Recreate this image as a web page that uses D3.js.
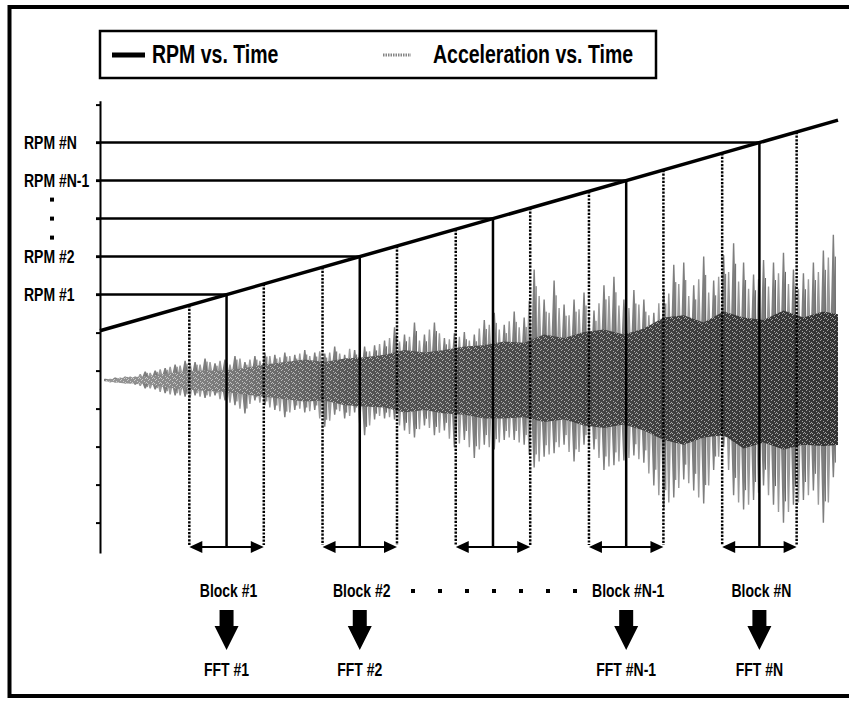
<!DOCTYPE html>
<html>
<head>
<meta charset="utf-8">
<script src="https://cdn.jsdelivr.net/npm/d3@7"></script>
<style>
  body { margin: 0; background: #fff; }
  svg text { font-family: "Liberation Sans", Arial, sans-serif; font-weight: bold; fill: #000; }
</style>
</head>
<body>
<svg id="chart" width="849" height="702"></svg>
<script>
// ---- data ----
// left axis: tick values (RPM units, top tick = 12)
const rpmTicks = [1, 2, 3, 4, 5, 6, 7, 8, 9, 10, 11, 12];
// RPM levels picked for the blocks, with their axis labels
const rpmLevels = [7, 8, 9, 10, 11];
const rpmLevelLabels = ["RPM #1", "RPM #2", "", "RPM #N-1", "RPM #N"];
const blockLabels = ["Block #1", "Block #2", "", "Block #N-1", "Block #N"];
const fftLabels = ["FFT #1", "FFT #2", "", "FFT #N-1", "FFT #N"];
// RPM vs time ramp (start / end)
const rpmLineTime = [0, 5.55];
const rpmLineValue = [6.05, 11.59];
const blockHalfWidth = 0.28;

// acceleration peaks (g), one every accStep starting at accStart
const accStart = 0.04, accStep = 0.075;
const accUpper = [0.1, 0.2, 0.3, 0.3, 0.7, 0.8, 1.0, 1.3, 1.6, 1.5,
  1.8, 1.4, 1.7, 2.0, 1.5, 2.0, 2.3, 2.1, 2.3, 2.1,
  2.5, 2.3, 2.2, 2.8, 2.1, 2.5, 2.8, 2.9, 3.3, 4.4,
  3.8, 4.8, 3.8, 4.8, 3.5, 3.9, 4.0, 3.8, 5.0, 5.6,
  4.6, 5.7, 5.2, 9.2, 6.7, 8.3, 6.3, 6.7, 7.3, 5.8,
  7.9, 8.6, 6.7, 7.5, 6.7, 5.6, 7.5, 9.6, 9.8, 7.9,
  10.3, 8.3, 10.4, 11.4, 9.8, 8.8, 10.0, 9.8, 10.6, 9.2,
  8.9, 9.8, 10.8, 12.1];
const accLower = [-0.1, -0.2, -0.3, -0.4, -0.7, -0.8, -1.1, -1.3, -1.4, -1.3,
  -1.5, -1.3, -1.7, -2.1, -2.8, -1.7, -2.1, -2.5, -3.1, -2.5,
  -2.7, -2.5, -3.9, -2.9, -3.2, -2.7, -4.6, -3.3, -3.2, -3.3,
  -4.2, -4.8, -3.8, -4.6, -4.2, -5.6, -5.0, -6.5, -5.4, -5.8,
  -5.0, -5.0, -5.4, -7.3, -6.4, -6.1, -5.4, -6.8, -5.4, -5.8,
  -7.5, -7.1, -6.7, -6.3, -6.9, -8.8, -10.8, -9.8, -8.3, -9.2,
  -10.3, -7.5, -5.6, -9.6, -10.8, -10.0, -8.8, -10.4, -11.9, -10.4,
  -10.0, -9.2, -11.9, -8.1];
// smaller peaks lying between the ones above (g)
const accUpper2 = [0.1, 0.2, 0.3, 0.5, 0.6, 0.9, 1.1, 1.2, 1.4, 1.3,
  1.5, 1.6, 1.3, 1.8, 1.7, 1.6, 2.0, 1.9, 2.0, 2.2,
  2.0, 2.4, 2.3, 2.2, 2.6, 2.3, 2.4, 3.0, 3.5, 3.2,
  3.6, 3.3, 4.2, 3.9, 3.4, 3.6, 3.3, 4.3, 4.6, 4.2,
  4.9, 4.4, 6.6, 7.0, 5.6, 6.0, 5.4, 5.9, 5.2, 6.4,
  7.0, 6.2, 6.0, 6.3, 5.4, 6.4, 7.2, 8.0, 7.0, 8.4,
  7.3, 8.6, 9.0, 8.2, 7.6, 8.4, 7.8, 8.9, 8.0, 7.6,
  8.4, 9.0, 10.2];
const accLower2 = [-0.2, -0.2, -0.3, -0.5, -0.7, -1.0, -1.2, -1.3, -1.5, -1.4,
  -1.4, -1.6, -1.9, -2.4, -2.0, -1.9, -2.3, -2.6, -2.7, -2.4,
  -2.6, -3.2, -3.4, -2.6, -3.0, -3.6, -3.8, -3.0, -3.1, -3.8,
  -4.5, -4.1, -4.0, -4.4, -4.9, -5.3, -5.6, -5.8, -5.6, -5.2,
  -4.8, -5.2, -6.2, -6.8, -6.2, -5.6, -6.0, -6.0, -5.4, -6.5,
  -7.2, -6.8, -6.5, -6.6, -7.8, -9.6, -10.2, -9.0, -8.6, -9.8,
  -8.8, -6.4, -7.5, -10.2, -10.4, -9.4, -9.6, -11.0, -11.0, -10.2,
  -9.6, -10.4, -10.2];
// dense core of the signal (g), one every coreStep
const coreStep = 0.15;
const coreUpper = [0, 0.2, 0.3, 0.5, 0.7, 0.8, 0.8, 1.0, 1.3, 1.5,
  1.7, 1.5, 1.8, 1.9, 2.1, 2.5, 2.3, 2.5, 2.8, 2.9,
  3.2, 3.1, 3.8, 3.5, 4.0, 4.2, 3.8, 4.3, 5.2, 5.4,
  4.8, 5.7, 5.2, 5.0, 5.8, 5.2, 5.7, 5.4];
const coreLower = [-0.1, -0.3, -0.3, -0.6, -0.8, -0.9, -1.0, -1.2, -1.4, -1.6,
  -1.8, -1.7, -2.1, -2.2, -2.3, -2.7, -2.5, -2.8, -2.9, -3.2,
  -3.2, -3.1, -3.5, -3.3, -3.8, -4.0, -3.7, -4.2, -5.0, -5.4,
  -4.8, -4.6, -5.7, -5.2, -5.8, -5.4, -5.5, -5.4];

// ---- scales ----
const svg = d3.select("#chart");
const x = d3.scaleLinear().domain([0, 5.55]).range([100, 838]);
const y = d3.scaleLinear().domain([0.2, 12.1]).range([553, 100.8]);
const yAcc = d3.scaleLinear().domain([-12, 12]).range([524, 236]);
const rpmAt = d3.scaleLinear().domain(rpmLineTime).range(rpmLineValue);

const defs = svg.append("defs");
// speckle texture for the dense part of the signal
const pat = defs.append("pattern").attr("id", "grain")
  .attr("width", 7).attr("height", 5).attr("patternUnits", "userSpaceOnUse");
[[1, 0], [4, 1], [0, 3], [5, 3], [2, 4], [6, 2]].forEach(([px, py]) => {
  pat.append("rect").attr("x", px).attr("y", py).attr("width", 1).attr("height", 1).attr("fill", "#fff").attr("opacity", 0.55);
});
const grad = defs.append("linearGradient").attr("id", "coreShade")
  .attr("gradientUnits", "userSpaceOnUse").attr("x1", 100).attr("x2", 838).attr("y1", 0).attr("y2", 0);
grad.append("stop").attr("offset", 0).attr("stop-color", "#9a9a9a");
grad.append("stop").attr("offset", 0.35).attr("stop-color", "#555");
grad.append("stop").attr("offset", 1).attr("stop-color", "#333");
defs.append("clipPath").attr("id", "plotclip")
  .append("rect").attr("x", 104).attr("y", 90).attr("width", 734).attr("height", 470);

// outer frame
svg.append("rect")
  .attr("x", 9.5).attr("y", 7).attr("width", 860).attr("height", 689)
  .attr("fill", "none").attr("stroke", "#000").attr("stroke-width", 4);

// ---- acceleration signal ----
const toPeaks = (up, lo, t0) => up.map((u, i) => ({ t: t0 + i * accStep, hi: u, lo: lo[i] }));
const accData = toPeaks(accUpper, accLower, accStart);
const accData2 = toPeaks(accUpper2, accLower2, accStart + accStep / 2);
const coreData = coreUpper.map((u, i) => ({ t: accStart + i * coreStep, hi: u, lo: coreLower[i] }));

const accG = svg.append("g").attr("clip-path", "url(#plotclip)");
const stepPx = x(accStep) - x(0);
function wedge(d, w) {
  const cx = x(d.t), y0 = yAcc(0);
  return `M${cx - w},${y0} L${cx - 0.7},${yAcc(d.hi)} L${cx + 0.7},${yAcc(d.hi)} L${cx + w},${y0} Z` +
         `M${cx - w},${y0} L${cx - 0.7},${yAcc(d.lo)} L${cx + 0.7},${yAcc(d.lo)} L${cx + w},${y0} Z`;
}
// spikes: a narrow wedge from the centre line to each peak
accG.selectAll(".spike2").data(accData2).enter().append("path")
  .attr("fill", "#9a9a9a").attr("d", d => wedge(d, stepPx * 0.35));
accG.selectAll(".spike").data(accData).enter().append("path")
  .attr("fill", "#7e7e7e").attr("d", d => wedge(d, stepPx * 0.4));
accG.selectAll(".spikeLine").data(accData).enter().append("line")
  .attr("x1", d => x(d.t) + 2).attr("x2", d => x(d.t) + 2)
  .attr("y1", d => yAcc(d.hi * 0.85)).attr("y2", d => yAcc(d.lo * 0.85))
  .attr("stroke", "#666").attr("stroke-width", 1);
const coreArea = d3.area().x(d => x(d.t)).y0(d => yAcc(d.lo)).y1(d => yAcc(d.hi));
accG.append("path").datum(coreData).attr("fill", "url(#coreShade)").attr("d", coreArea);
accG.append("path").datum(coreData).attr("fill", "url(#grain)").attr("d", coreArea);

// ---- left axis ----
svg.append("g")
  .attr("transform", "translate(100,0)")
  .call(d3.axisLeft(y).tickValues(rpmTicks).tickSize(4).tickSizeOuter(0).tickFormat(""))
  .call(g => g.selectAll("path, line").attr("stroke", "#000").attr("stroke-width", 2));

// ---- blocks ----
const blocks = rpmLevels.map((v, i) => {
  const tc = rpmAt.invert(v);
  return { v, tc, tl: tc - blockHalfWidth, tr: tc + blockHalfWidth,
    rpmLabel: rpmLevelLabels[i], block: blockLabels[i], fft: fftLabels[i] };
});
const arrowY = 547;

// horizontal RPM level lines
svg.selectAll(".level").data(blocks).enter().append("line")
  .attr("x1", 96).attr("x2", d => x(d.tc))
  .attr("y1", d => y(d.v)).attr("y2", d => y(d.v))
  .attr("stroke", "#000").attr("stroke-width", 2.5);

// RPM ramp
svg.append("line")
  .attr("x1", x(rpmLineTime[0])).attr("y1", y(rpmLineValue[0]))
  .attr("x2", x(rpmLineTime[1])).attr("y2", y(rpmLineValue[1]))
  .attr("stroke", "#000").attr("stroke-width", 3.5);

// dotted block edges, centre line and double arrow
blocks.forEach(d => {
  [d.tl, d.tr].forEach(t => {
    svg.append("line")
      .attr("x1", x(t)).attr("x2", x(t))
      .attr("y1", y(rpmAt(t))).attr("y2", arrowY - 2)
      .attr("stroke", "#000").attr("stroke-width", 2.5)
      .attr("stroke-dasharray", "2.2,1.4");
  });
  svg.append("line")
    .attr("x1", x(d.tc)).attr("x2", x(d.tc))
    .attr("y1", y(d.v)).attr("y2", arrowY)
    .attr("stroke", "#000").attr("stroke-width", 2.5);
  const xl = x(d.tl), xr = x(d.tr);
  svg.append("line")
    .attr("x1", xl + 8).attr("x2", xr - 8).attr("y1", arrowY).attr("y2", arrowY)
    .attr("stroke", "#000").attr("stroke-width", 2);
  svg.append("path").attr("fill", "#000")
    .attr("d", `M${xl},${arrowY} L${xl + 13},${arrowY - 6} L${xl + 13},${arrowY + 6} Z`);
  svg.append("path").attr("fill", "#000")
    .attr("d", `M${xr},${arrowY} L${xr - 13},${arrowY - 6} L${xr - 13},${arrowY + 6} Z`);
});

// ---- texts ----
function label(txt, px, py, size, anchor) {
  svg.append("text")
    .attr("transform", `translate(${px},${py}) scale(1,1.25)`)
    .attr("text-anchor", anchor)
    .style("font-size", size + "px")
    .text(txt);
}

blocks.forEach(d => {
  if (d.rpmLabel) label(d.rpmLabel, 24, y(d.v) + 6, 14, "start");
  if (d.block) label(d.block, x(d.tc) + 2, 597, 14, "middle");
  if (d.fft) {
    label(d.fft, x(d.tc), 676, 14, "middle");
    const cx = x(d.tc);
    svg.append("path").attr("fill", "#000")
      .attr("d", `M${cx - 7},610 H${cx + 7} V626 H${cx + 12} L${cx},650 L${cx - 12},626 H${cx - 7} Z`);
  }
});

// ellipsis marks between RPM #N-1 and RPM #2
const mid = blocks[2];
[-0.5, 0, 0.5].forEach(o => {
  svg.append("rect").attr("x", 50).attr("y", y(mid.v + o) - 2).attr("width", 4).attr("height", 4).attr("fill", "#000");
});
// row of dots between Block #2 and Block #N-1
const dotX = d3.scaleLinear().domain([0, 6]).range([413, 575]);
d3.range(7).forEach(i => {
  svg.append("rect").attr("x", dotX(i) - 2).attr("y", 589).attr("width", 4).attr("height", 4).attr("fill", "#000");
});

// ---- legend ----
const leg = svg.append("g");
leg.append("rect").attr("x", 100).attr("y", 31).attr("width", 556).attr("height", 47)
  .attr("fill", "#fff").attr("stroke", "#000").attr("stroke-width", 2.5);
leg.append("line").attr("x1", 112).attr("x2", 145).attr("y1", 55).attr("y2", 55)
  .attr("stroke", "#000").attr("stroke-width", 5);
leg.append("line").attr("x1", 383).attr("x2", 411).attr("y1", 55).attr("y2", 55)
  .attr("stroke", "#858585").attr("stroke-width", 3).attr("stroke-dasharray", "1.5,1");
leg.append("text").attr("transform", "translate(152,63) scale(1,1.3)")
  .style("font-size", "19.5px").text("RPM vs. Time");
leg.append("text").attr("transform", "translate(433,63) scale(1,1.3)")
  .style("font-size", "19.5px").text("Acceleration vs. Time");
</script>
</body>
</html>
